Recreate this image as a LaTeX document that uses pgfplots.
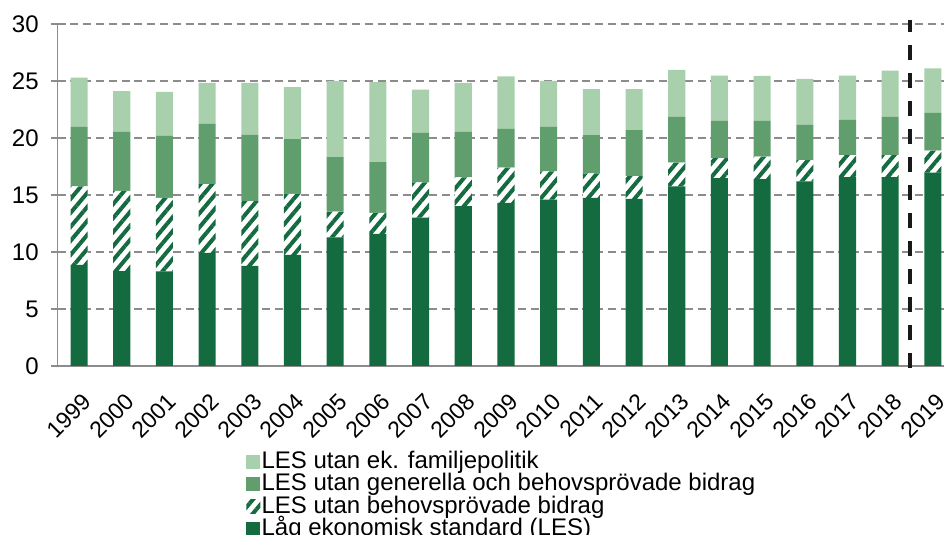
\documentclass[border=0pt]{standalone}
\usepackage{fontspec}
\setmainfont{Liberation Sans}
\usepackage{pgfplots}
\pgfplotsset{compat=1.18}
\usepackage{pgfplotstable}
\usetikzlibrary{patterns.meta}

\definecolor{lesdark}{RGB}{19,107,63}
\definecolor{lesmid}{RGB}{96,158,110}
\definecolor{leslight}{RGB}{168,208,172}
\definecolor{gridgray}{RGB}{140,140,140}

% increments of the stacked bars, in per cent
\pgfplotstableread{
x year les behov gen fam
0 1999 8.86 6.89 5.22 4.33
1 2000 8.33 7.04 5.16 3.57
2 2001 8.30 6.45 5.43 3.87
3 2002 9.91 6.04 5.28 3.61
4 2003 8.77 5.69 5.83 4.55
5 2004 9.74 5.36 4.81 4.55
6 2005 11.29 2.26 4.78 6.68
7 2006 11.58 1.85 4.46 7.01
8 2007 13.02 3.08 4.34 3.81
9 2008 14.02 2.52 3.99 4.31
10 2009 14.31 3.08 3.40 4.61
11 2010 14.60 2.47 3.90 4.04
12 2011 14.75 2.14 3.37 4.02
13 2012 14.66 2.00 4.04 3.58
14 2013 15.75 2.08 4.02 4.13
15 2014 16.48 1.76 3.26 3.98
16 2015 16.39 1.97 3.14 3.95
17 2016 16.19 1.87 3.08 4.05
18 2017 16.57 1.93 3.08 3.90
19 2018 16.57 1.93 3.35 4.07
20 2019 16.95 1.94 3.31 3.90
}\lesdata

\begin{document}
\begin{tikzpicture}
\begin{axis}[
    width=443.2pt, height=171pt, scale only axis,
    ybar stacked, bar width=0.4,
    xmin=-0.5, xmax=20.26, ymin=0, ymax=30,
    clip=false,
    axis lines*=left,
    axis line style={gridgray, line width=0.75pt},
    xtick={0,...,20},
    xticklabels from table={\lesdata}{year},
    ytick={0,5,...,30},
    ymajorgrids,
    grid style={gridgray, line width=0.75pt, dash pattern=on 4pt off 2.4pt},
    xtick style={draw=none},
    ytick style={gridgray, line width=0.75pt},
    tick align=center, major tick length=7pt,
    /pgf/number format/assume math mode=true,
    yticklabel style={font=\fontsize{12}{14}\selectfont, xshift=-2.5pt},
    xticklabel style={font=\fontsize{11.5}{13}\selectfont, rotate=45, anchor=north east, xshift=-2.5pt, yshift=-4pt},
    reverse legend,
    legend cell align=left,
    legend style={at={(0.2125,-0.2456)}, anchor=north west, draw=none, fill=none,
        inner sep=0pt, font=\fontsize{12}{14}\selectfont, row sep=0pt,
        nodes={inner sep=0.6pt, text height=8.5pt, text depth=1.5pt}},
    legend image code/.code={\draw[#1, draw=none] (0pt,-3.5pt) rectangle (7pt,3.5pt);},
]
\addplot[fill=lesdark, draw=none] table[x=x, y=les] {\lesdata};
\addplot[fill=white, draw=none,
    postaction={pattern={Lines[angle=50, distance=4.5pt, line width=2pt]}, pattern color=lesdark}]
    table[x=x, y=behov] {\lesdata};
\addplot[fill=lesmid, draw=none] table[x=x, y=gen] {\lesdata};
\addplot[fill=leslight, draw=none] table[x=x, y=fam] {\lesdata};
\legend{Låg ekonomisk standard (LES), LES utan behovsprövade bidrag,
    LES utan generella och behovsprövade bidrag, LES utan ek. familjepolitik}
\draw[black!90, line width=2pt, dash pattern=on 7.5pt off 6.5pt]
    (axis cs:19.47,-0.2) -- (axis cs:19.47,30.35);
\end{axis}
\pgfresetboundingbox
\useasboundingbox (-28.85pt,-84.5pt) rectangle (443.2pt,183pt);
\end{tikzpicture}
\end{document}
